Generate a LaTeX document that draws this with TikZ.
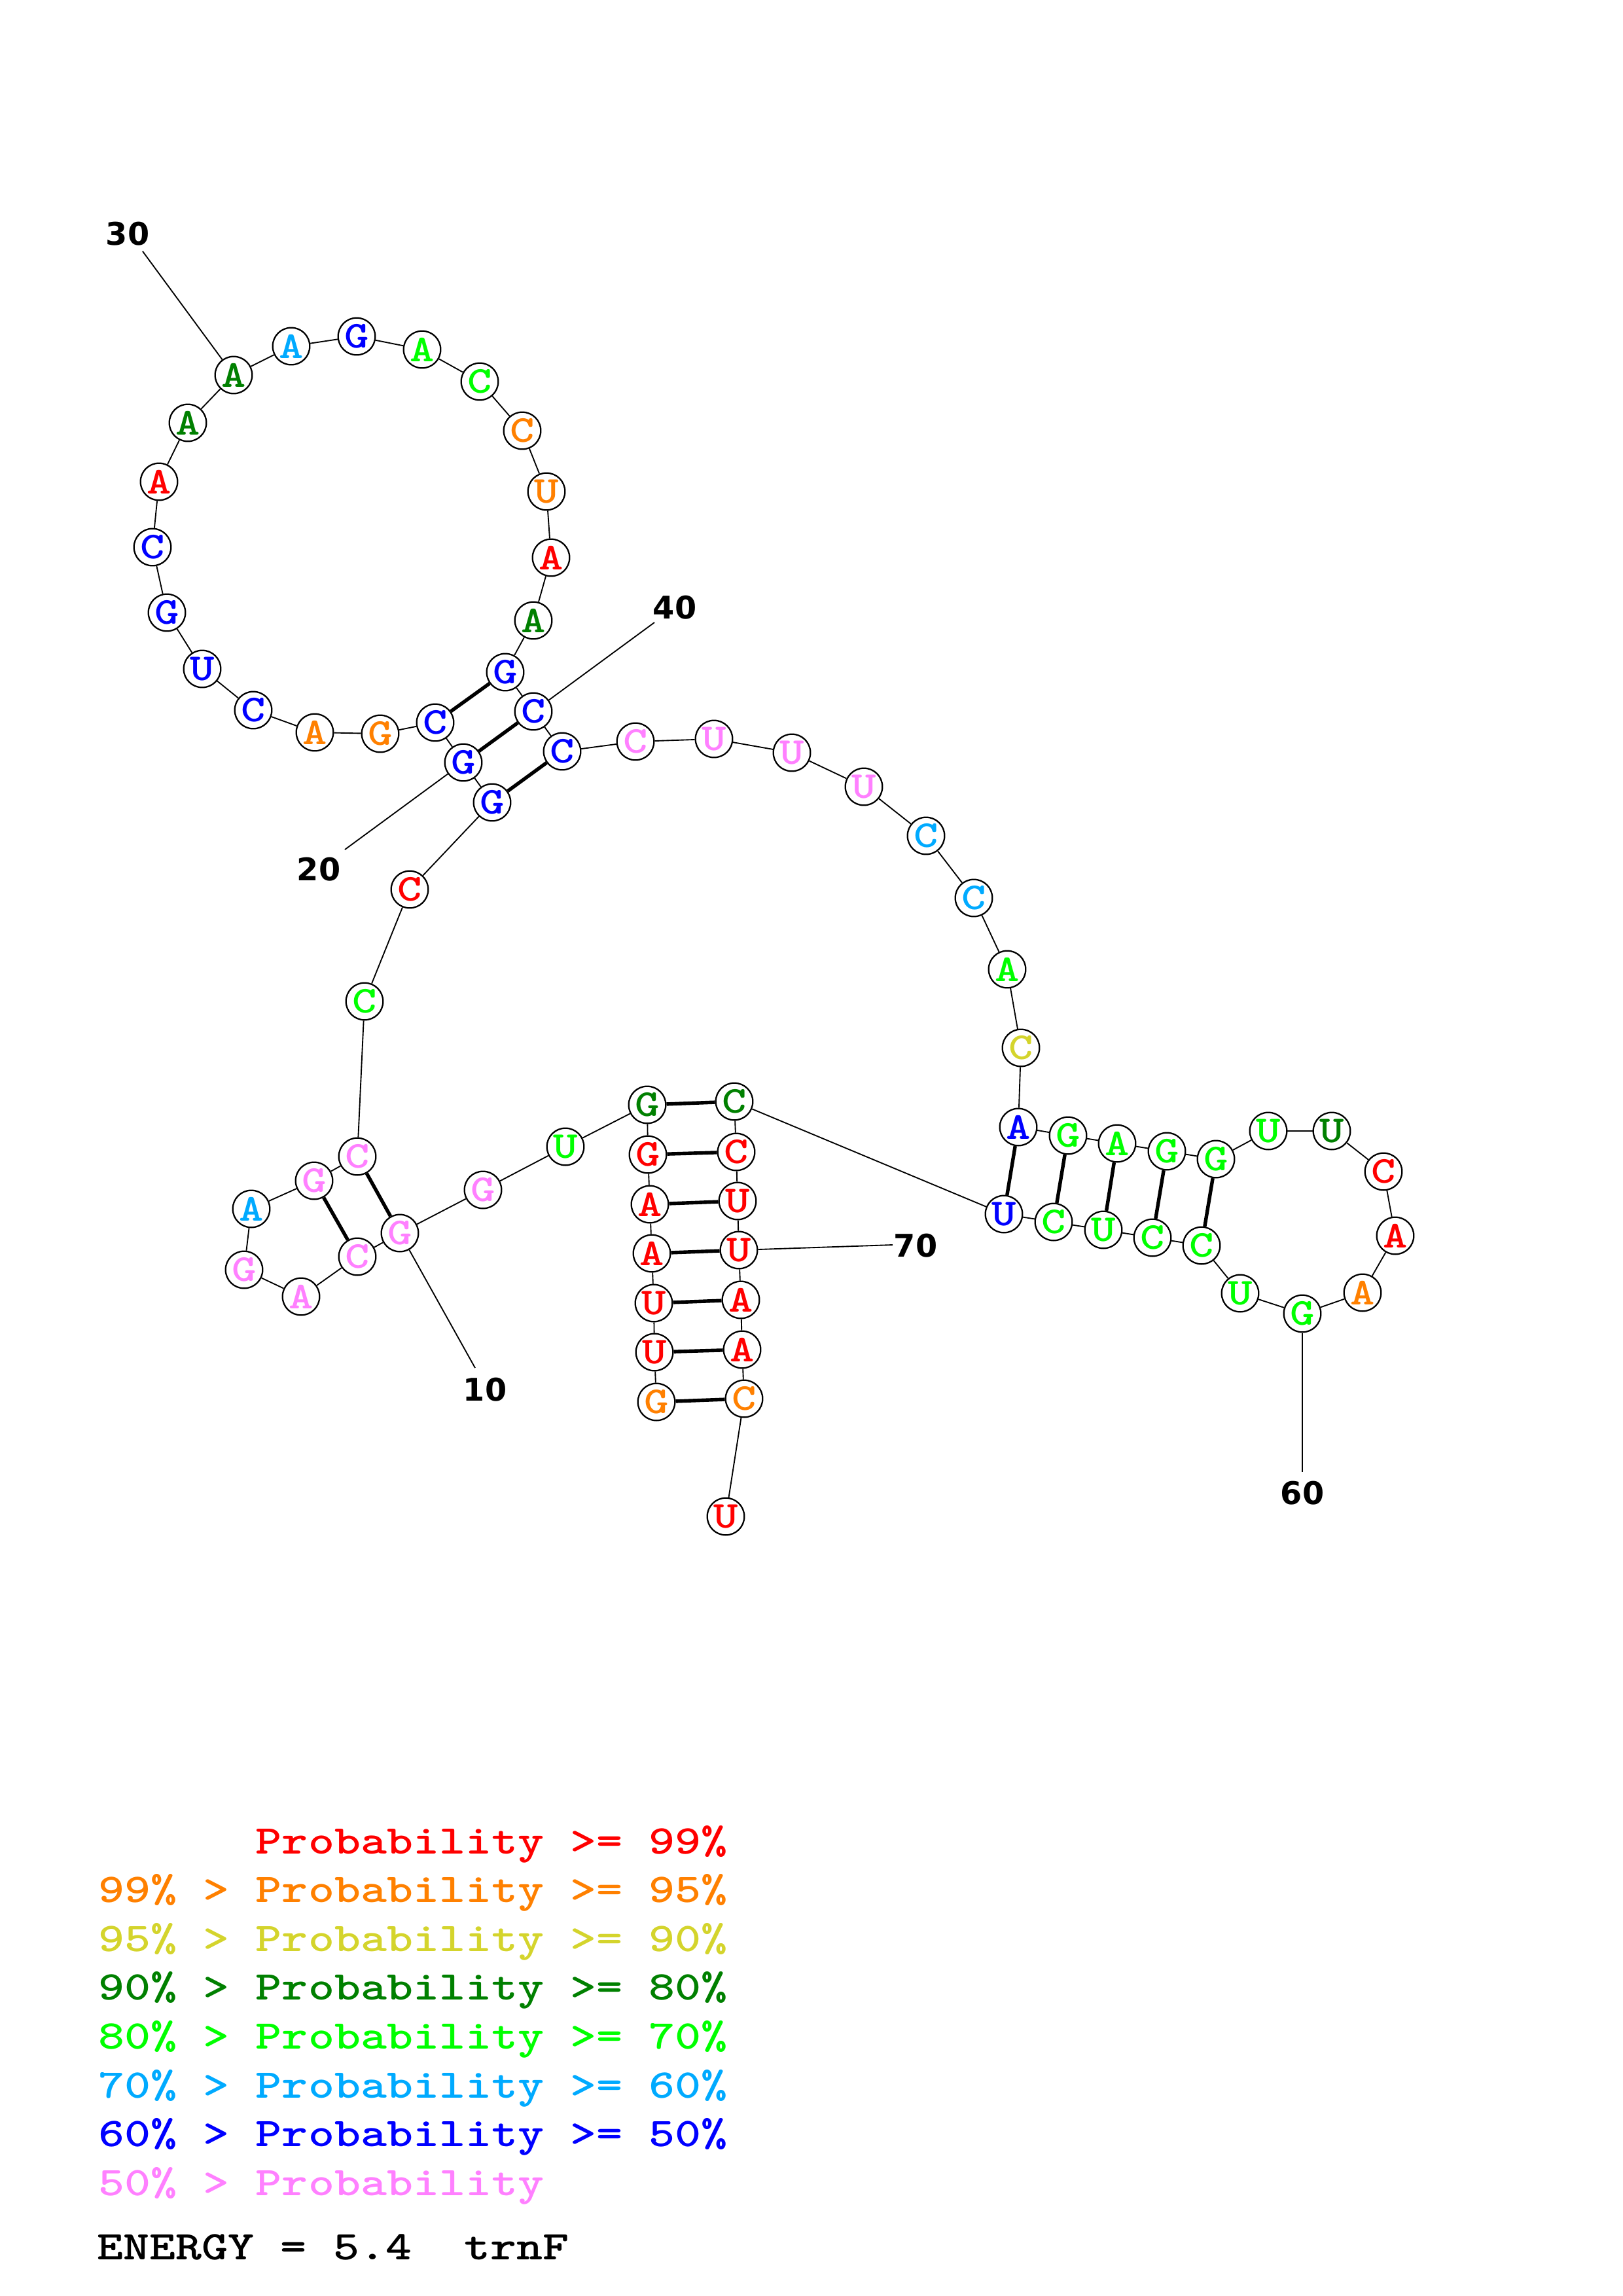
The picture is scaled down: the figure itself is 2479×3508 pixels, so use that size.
\documentclass[tikz,border=0pt]{standalone}
\usepackage{fontspec}
\usepackage{graphicx}
\newfontfamily\numfont{DejaVu Sans}

\definecolor{pred}{RGB}{255,0,0}
\definecolor{porange}{RGB}{255,128,0}
\definecolor{pyellow}{RGB}{212,212,44}
\definecolor{pdkgreen}{RGB}{0,128,0}
\definecolor{pgreen}{RGB}{0,255,0}
\definecolor{pltblue}{RGB}{0,170,255}
\definecolor{pblue}{RGB}{0,0,255}
\definecolor{ppink}{RGB}{255,128,255}

\tikzset{
  nuc/.style={circle,draw,fill=white,line width=0.55pt,minimum size=4.8mm,inner sep=0pt,
    font=\ttfamily\bfseries\fontsize{14}{14}\selectfont},
  bb/.style={line width=0.45pt},
  bp/.style={line width=1.3pt},
  numtick/.style={line width=0.45pt},
  numlab/.style={inner sep=0pt,font=\numfont\bfseries\fontsize{11.5}{11.5}\selectfont},
  legend/.style={anchor=base west,inner sep=0pt,font=\ttfamily\bfseries\fontsize{15}{15}\selectfont}
}
\newcommand{\wide}[1]{\scalebox{1.225}[1]{#1}}

\begin{document}
\begin{tikzpicture}[x=0.08471mm,y=-0.08471mm]
  \useasboundingbox (0,0) rectangle (2479,3508);

  % bases
  \foreach \n/\x/\y/\s/\cl in {
    1/1003/2142/G/porange, 2/1000/2066/U/pred, 3/999/1991/U/pred, 4/996/1915/A/pred,
    5/993/1840/A/pred, 6/990/1764/G/pred, 7/989/1688/G/pdkgreen, 8/864/1752/U/pgreen,
    9/738/1818/G/ppink, 10/611/1884/G/ppink, 11/546/1920/C/ppink, 12/460/1981/A/ppink,
    13/373/1940/G/ppink, 14/384/1847/A/pltblue, 15/480/1804/G/ppink, 16/546/1767/C/ppink,
    17/557/1530/C/pgreen, 18/626/1359/C/pred, 19/752/1226/G/pblue, 20/708/1165/G/pblue,
    21/665/1104/C/pblue, 22/581/1121/G/porange, 23/481/1119/A/porange, 24/387/1085/C/pblue,
    25/309/1022/U/pblue, 26/255/936/G/pblue, 27/233/836/C/pblue, 28/243/736/A/pred,
    29/287/646/A/pdkgreen, 30/357/573/A/pdkgreen, 31/445/529/A/pltblue, 32/545/514/G/pblue,
    33/645/534/A/pgreen, 34/733/583/C/pgreen, 35/798/658/C/porange, 36/835/751/U/porange,
    37/842/852/A/pred, 38/815/948/A/pdkgreen, 39/772/1027/G/pblue, 40/815/1087/C/pblue,
    41/859/1148/C/pblue, 42/971/1133/C/ppink, 43/1091/1129/U/ppink, 44/1210/1150/U/ppink,
    45/1320/1202/U/ppink, 46/1415/1277/C/pltblue, 47/1488/1372/C/pltblue, 48/1539/1481/A/pgreen,
    49/1560/1601/C/pyellow, 50/1556/1722/A/pblue, 51/1632/1735/G/pgreen, 52/1707/1747/A/pgreen,
    53/1783/1759/G/pgreen, 54/1858/1771/G/pgreen, 55/1938/1728/U/pgreen, 56/2035/1728/U/pdkgreen,
    57/2114/1790/C/pred, 58/2132/1888/A/pred, 59/2082/1975/A/porange, 60/1990/2007/G/pgreen,
    61/1895/1976/U/pgreen, 62/1836/1903/C/pgreen, 63/1761/1891/C/pgreen, 64/1686/1879/U/pgreen,
    65/1610/1867/C/pgreen, 66/1534/1855/U/pblue, 67/1122/1683/C/pdkgreen, 68/1125/1760/C/pred,
    69/1127/1835/U/pred, 70/1129/1910/U/pred, 71/1132/1986/A/pred, 72/1134/2062/A/pred,
    73/1137/2137/C/porange, 74/1109/2317/U/pred}
    \node[nuc,text=\cl] (n\n) at (\x,\y) {\wide{\s}};

  % backbone
  \foreach \i in {1,...,73}{
    \pgfmathtruncatemacro{\j}{\i+1}
    \draw[bb] (n\i) -- (n\j);
  }

  % base pairs
  \foreach \p/\q in {1/73,2/72,3/71,4/70,5/69,6/68,7/67,10/16,11/15,
                     19/41,20/40,21/39,50/66,51/65,52/64,53/63,54/62}
    \draw[bp] (n\p) -- (n\q);

  % numbering
  \coordinate (t10) at (726,2090);
  \coordinate (t20) at (527,1298);
  \coordinate (t30) at (218,384);
  \coordinate (t40) at (1000,951);
  \coordinate (t60) at (1990,2249);
  \coordinate (t70) at (1364,1902);
  \foreach \n in {10,20,30,40,60,70}
    \draw[numtick] (n\n) -- (t\n);
  \node[numlab] (l10) at (741,2123) {10};
  \node[numlab] (l20) at (487,1328) {20};
  \node[numlab] (l30) at (195,357) {30};
  \node[numlab] (l40) at (1031,928) {40};
  \node[numlab] (l60) at (1990,2281) {60};
  \node[numlab] (l70) at (1399,1903) {70};

  % legend
  \foreach \k/\cl/\txt in {
    0/pred/{\phantom{99\%~>~}Probability~>=~99\%},
    1/porange/{99\%~>~Probability~>=~95\%},
    2/pyellow/{95\%~>~Probability~>=~90\%},
    3/pdkgreen/{90\%~>~Probability~>=~80\%},
    4/pgreen/{80\%~>~Probability~>=~70\%},
    5/pltblue/{70\%~>~Probability~>=~60\%},
    6/pblue/{60\%~>~Probability~>=~50\%},
    7/ppink/{50\%~>~Probability}}
    \node[legend,text=\cl] (leg\k) at (150,{2832+74.6*\k}) {\wide{\txt}};
  \node[legend] (energy) at (148,3452) {\wide{ENERGY~=~5.4~~trnF}};
\end{tikzpicture}
\end{document}
